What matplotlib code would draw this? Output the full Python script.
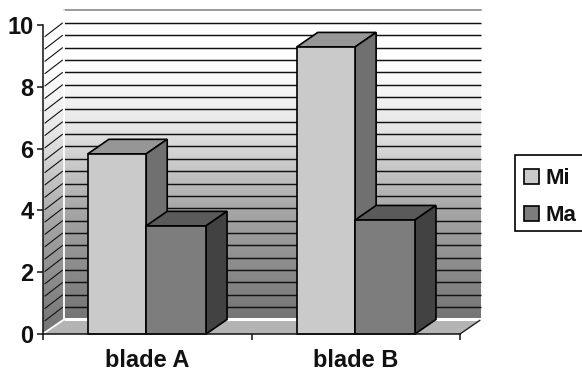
import numpy as np
import matplotlib
matplotlib.use("Agg")
import matplotlib.pyplot as plt
from matplotlib.colors import LinearSegmentedColormap
from matplotlib.patches import Polygon, Rectangle

categories = ["blade A", "blade B"]
series_names = ["Mi", "Ma"]
mi_values = [5.83, 9.29]
ma_values = [3.5, 3.69]
y_ticks = [0, 2, 4, 6, 8, 10]
grid_values = [0.4 * k for k in range(1, 25)]

W, H = 582, 374
L, R, B, T = 43, 460, 334, 25
plt.rcParams["font.family"] = ["Liberation Sans", "DejaVu Sans"]
fig = plt.figure(figsize=(W / 100, H / 100), dpi=100)
ax = fig.add_axes([L / W, 1 - B / H, (R - L) / W, (B - T) / H])
ax.set_xlim(0, 2)
ax.set_ylim(0, 10)
ax.patch.set_visible(False)

DX = 21 / ((R - L) / 2)   # depth in category units
DY = 0.47                 # depth in value units
BW_MI = 0.28
BW_MA = 0.287
centers = [0.495, 1.497]

cmap = LinearSegmentedColormap.from_list(
    "wall", [(0, "#747474"), (0.35, "#a6a6a6"), (0.62, "#e6e6e6"), (0.82, "#ffffff"), (1, "#ffffff")])
grad = np.linspace(1, 0, 256).reshape(-1, 1)
xmax_back = 2 + DX

# back wall
ax.imshow(grad, extent=[DX, xmax_back, DY, 10 + DY], aspect="auto", cmap=cmap,
          vmin=0, vmax=1, zorder=1, clip_on=False)
ax.set_xlim(0, 2)
ax.set_ylim(0, 10)
# left wall
im = ax.imshow(grad, extent=[0, DX, 0, 10 + DY], aspect="auto", cmap=cmap,
               vmin=0, vmax=1, zorder=1, clip_on=True)
clip = Polygon([(0, 0), (DX, DY), (DX, 10 + DY), (0, 10)], transform=ax.transData, fc="none", ec="none")
ax.add_patch(clip)
im.set_clip_path(clip)
ax.set_xlim(0, 2)
ax.set_ylim(0, 10)

# grid lines on both walls
for v in grid_values:
    ax.plot([DX, xmax_back], [v + DY, v + DY], color="#111111", lw=1.05, zorder=2,
            clip_on=False, solid_capstyle="butt")
    ax.plot([0.01, DX - 0.008], [v + 0.03, v + DY - 0.01], color="#111111", lw=0.8, zorder=2,
            clip_on=False)
ax.plot([DX, xmax_back], [10 + DY, 10 + DY], color="#808080", lw=1.1, zorder=2, clip_on=False)

# floor
ax.add_patch(Polygon([(0, 0), (2, 0), (xmax_back, DY), (DX, DY)], fc="#b4b4b4", ec="none",
                     zorder=3, clip_on=False))
ax.plot([DX, xmax_back], [DY, DY], color="white", lw=2.2, zorder=3.1, clip_on=False,
        solid_capstyle="butt")
ax.plot([0.005, DX, DX], [0.03, DY, 10 + DY], color="white", lw=1.3, zorder=3.1, clip_on=False)
ax.plot([2, xmax_back - 0.006], [0, DY - 0.03], color="#222222", lw=1.0, zorder=3.2, clip_on=False)


def bar3d(x0, bw, val, front, top, side, z):
    ax.bar([x0 + bw / 2], [val], width=bw, color=front, edgecolor="black", linewidth=1.2,
           zorder=z + 0.2, clip_on=False)
    ax.add_patch(Polygon([(x0, val), (x0 + bw, val), (x0 + bw + DX, val + DY), (x0 + DX, val + DY)],
                         fc=top, ec="black", lw=1.2, zorder=z, clip_on=False, joinstyle="miter"))
    ax.add_patch(Polygon([(x0 + bw, 0), (x0 + bw + DX, DY), (x0 + bw + DX, val + DY), (x0 + bw, val)],
                         fc=side, ec="black", lw=1.2, zorder=z, clip_on=False, joinstyle="miter"))


for i, c in enumerate(centers):
    bar3d(c - BW_MI, BW_MI, mi_values[i], "#cacaca", "#969696", "#707070", 4 + i)
    bar3d(c, BW_MA, ma_values[i], "#7d7d7d", "#5a5a5a", "#424242", 4.5 + i)

# axes lines and ticks
for s in ("top", "right"):
    ax.spines[s].set_visible(False)
for s in ("left", "bottom"):
    ax.spines[s].set_linewidth(1.1)
    ax.spines[s].set_color("#111111")
    ax.spines[s].set_zorder(8)
ax.set_yticks(y_ticks)
ax.set_yticklabels([str(v) for v in y_ticks], fontsize=17, fontweight="bold", color="#111111")
ax.tick_params(axis="y", length=4.3, width=1.1, pad=2.4, color="#111111")
ax.set_xticks([0, 1, 2])
ax.set_xticklabels([])
ax.tick_params(axis="x", which="major", length=4.3, width=1.1, color="#111111")
ax.set_xticks([0.5, 1.5], minor=True)
ax.set_xticklabels(categories, minor=True, fontsize=17, fontweight="bold", color="#111111")
ax.tick_params(axis="x", which="minor", length=0, pad=10.5)

# legend
handles = [Rectangle((0, 0), 1, 1, fc="#cacaca", ec="black", lw=1.2),
           Rectangle((0, 0), 1, 1, fc="#7d7d7d", ec="black", lw=1.2)]
leg = fig.legend(handles, series_names, loc="lower left",
                 bbox_to_anchor=(515 / W, 1 - 231 / H), frameon=True, fancybox=False,
                 edgecolor="black", facecolor="white", framealpha=1,
                 prop={"size": 16, "weight": "bold"}, handlelength=0.68, handleheight=0.7,
                 handletextpad=0.3, borderpad=0.4, labelspacing=0.71, borderaxespad=0)
leg.get_frame().set_linewidth(1.2)
for t, h in zip(leg.get_texts(), leg.legend_handles):
    t.set_color("#111111")
    t.set_y(-4)
    h.set_y(h.get_y() - 3)

fig.savefig("out.png", dpi=100)
